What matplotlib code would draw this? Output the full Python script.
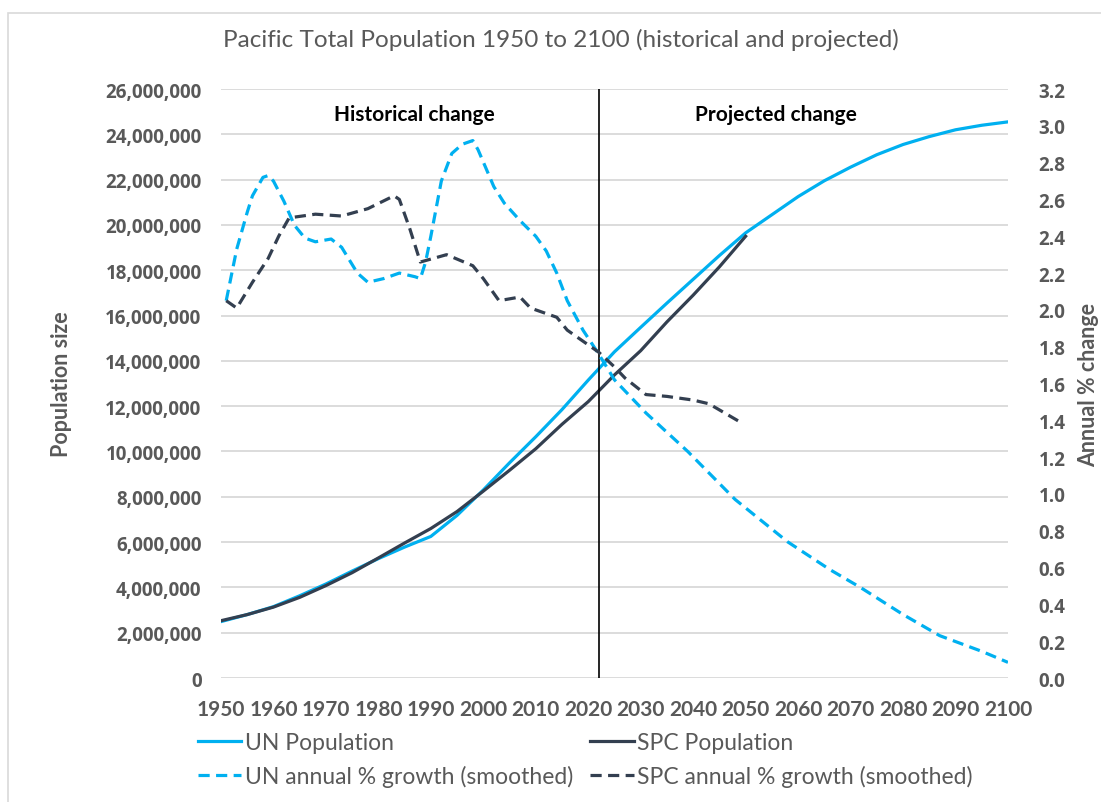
import matplotlib
matplotlib.use("Agg")
import matplotlib.pyplot as plt
from matplotlib.patches import Rectangle
from matplotlib.ticker import FuncFormatter, MultipleLocator

# Population (millions)
un_pop_years = [1950, 1955, 1960, 1965, 1970, 1975, 1980, 1985, 1990, 1995, 2000, 2005, 2010,
                2015, 2020, 2025, 2030, 2035, 2040, 2045, 2050, 2055, 2060, 2065, 2070, 2075,
                2080, 2085, 2090, 2095, 2100]
un_pop = [2.49, 2.80, 3.15, 3.63, 4.15, 4.72, 5.27, 5.78, 6.25, 7.18, 8.30, 9.50, 10.65,
          11.85, 13.15, 14.40, 15.48, 16.55, 17.60, 18.65, 19.65, 20.45, 21.25, 21.95, 22.55,
          23.10, 23.55, 23.90, 24.20, 24.40, 24.55]

spc_pop_years = [1950, 1955, 1960, 1965, 1970, 1975, 1980, 1985, 1990, 1995, 2000, 2005, 2010,
                 2015, 2020, 2025, 2030, 2035, 2040, 2045, 2050]
spc_pop = [2.53, 2.80, 3.13, 3.56, 4.08, 4.65, 5.30, 5.96, 6.60, 7.35, 8.25, 9.17, 10.12,
           11.20, 12.20, 13.38, 14.45, 15.72, 16.90, 18.15, 19.50]

# Annual % growth (smoothed)
un_gr_years = [1951, 1952, 1953, 1955, 1956, 1958, 1959, 1960, 1962, 1964, 1966, 1968, 1971,
               1973, 1976, 1978, 1981, 1984, 1987, 1988, 1989, 1990, 1992, 1994, 1996, 1998,
               1999, 2002, 2004, 2007, 2010, 2012, 2014, 2016, 2019, 2022, 2025, 2031, 2039,
               2048, 2058, 2066, 2072, 2080, 2087, 2095, 2100]
un_growth = [2.05, 2.19, 2.33, 2.53, 2.62, 2.72, 2.73, 2.70, 2.59, 2.46, 2.39, 2.37, 2.385,
             2.34, 2.20, 2.15, 2.17, 2.20, 2.18, 2.17, 2.26, 2.40, 2.70, 2.85, 2.90, 2.92,
             2.87, 2.67, 2.58, 2.485, 2.40, 2.32, 2.20, 2.05, 1.89, 1.76, 1.62, 1.44, 1.23,
             0.97, 0.74, 0.59, 0.49, 0.345, 0.23, 0.145, 0.085]

spc_gr_years = [1951, 1953, 1956, 1959, 1961, 1963, 1968, 1973, 1978, 1983, 1984, 1986, 1988,
                1993, 1998, 2000, 2003, 2007, 2009, 2014, 2016, 2022, 2025, 2027, 2031, 2035,
                2040, 2043, 2049]
spc_growth = [2.05, 2.01, 2.15, 2.28, 2.40, 2.50, 2.52, 2.51, 2.55, 2.62, 2.60, 2.44, 2.26,
              2.30, 2.24, 2.17, 2.05, 2.07, 2.01, 1.96, 1.89, 1.77, 1.69, 1.63, 1.54, 1.53,
              1.51, 1.49, 1.39]

cyan = "#00B0F0"
navy = "#333F50"
grey = "#595959"
txt_font = ["Lato", "DejaVu Sans"]
num_font = ["Open Sans", "DejaVu Sans"]

fig = plt.figure(figsize=(11.01, 8.03), dpi=100)
ax = fig.add_axes([0.2007, 0.1544, 0.7148, 0.7335])
ax2 = ax.twinx()

ax.plot(un_pop_years, [v * 1e6 for v in un_pop], color=cyan, lw=2.3, label="UN Population")
ax.plot(spc_pop_years, [v * 1e6 for v in spc_pop], color=navy, lw=2.3, label="SPC Population")
ax2.plot(un_gr_years, un_growth, color=cyan, lw=2.3, dashes=(3.5, 2),
         label="UN annual % growth (smoothed)")
ax2.plot(spc_gr_years, spc_growth, color=navy, lw=2.3, dashes=(3.5, 2),
         label="SPC annual % growth (smoothed)")

ax.set_xlim(1950, 2100)
ax.set_ylim(0, 26e6)
ax2.set_ylim(0, 3.2)
ax.set_xticks(range(1950, 2101, 10))
ax.yaxis.set_major_locator(MultipleLocator(2e6))
ax2.yaxis.set_major_locator(MultipleLocator(0.2))
ax.yaxis.set_major_formatter(FuncFormatter(lambda v, p: f"{v:,.0f}"))
ax2.yaxis.set_major_formatter(FuncFormatter(lambda v, p: f"{v:.1f}"))

ax.grid(axis="y", color="#D9D9D9", lw=1.3)
ax.set_axisbelow(True)
for a in (ax, ax2):
    for s in a.spines.values():
        s.set_visible(False)
    a.tick_params(length=0, colors=grey, labelsize=13.5)
    for lab in a.get_xticklabels() + a.get_yticklabels():
        lab.set_family(num_font)
        lab.set_fontweight("bold")
ax.tick_params(axis="y", pad=14)
ax.tick_params(axis="x", pad=15)
ax2.tick_params(axis="y", pad=22)
for lab in ax.get_xticklabels():
    lab.set_family(txt_font)
    lab.set_fontsize(15)

ax.axvline(2022, color="black", lw=1.2)

ax.text(1986.8, 24.9e6, "Historical change", ha="center", va="center", fontsize=15,
        fontweight="bold", family=txt_font, color="black")
ax.text(2055.7, 24.9e6, "Projected change", ha="center", va="center", fontsize=15,
        fontweight="bold", family=txt_font, color="black")

ax.set_ylabel("Population size", fontsize=15.5, fontweight="bold", color=grey,
              family=txt_font, labelpad=24)
ax2.set_ylabel("Annual % change", fontsize=15.5, fontweight="bold", color=grey,
               family=txt_font, rotation=90, labelpad=9)

fig.text(0.509, 0.950, "Pacific Total Population 1950 to 2100 (historical and projected)",
         ha="center", va="center", fontsize=17.5, color=grey, family=txt_font)

h1, l1 = ax.get_legend_handles_labels()
h2, l2 = ax2.get_legend_handles_labels()
handles = [h1[0], h2[0], h1[1], h2[1]]
labels = [l1[0], l2[0], l1[1], l2[1]]
fig.legend(handles, labels, ncol=2, loc="center left", bbox_to_anchor=(0.161, 0.053),
           frameon=False, prop={"family": txt_font, "size": 16.5}, labelcolor=grey,
           handlelength=1.9, handletextpad=0.15, columnspacing=0.75, labelspacing=0.55)

fig.add_artist(Rectangle((0.0073, -0.01), 1.1, 0.9926, transform=fig.transFigure,
                         fill=False, edgecolor="#D9D9D9", lw=1.2))

fig.savefig("out.png", dpi=100)
